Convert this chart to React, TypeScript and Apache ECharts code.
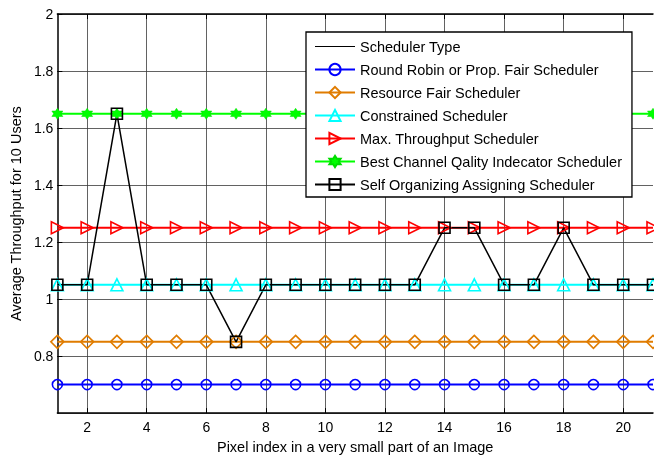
import React, { useEffect, useRef } from "react";
import * as echarts from "echarts";

const categories = ["1","2","3","4","5","6","7","8","9","10","11","12","13","14","15","16","17","18","19","20","21"];
const roundRobin = [0.7,0.7,0.7,0.7,0.7,0.7,0.7,0.7,0.7,0.7,0.7,0.7,0.7,0.7,0.7,0.7,0.7,0.7,0.7,0.7,0.7];
const resourceFair = [0.85,0.85,0.85,0.85,0.85,0.85,0.85,0.85,0.85,0.85,0.85,0.85,0.85,0.85,0.85,0.85,0.85,0.85,0.85,0.85,0.85];
const constrained = [1.05,1.05,1.05,1.05,1.05,1.05,1.05,1.05,1.05,1.05,1.05,1.05,1.05,1.05,1.05,1.05,1.05,1.05,1.05,1.05,1.05];
const maxThroughput = [1.25,1.25,1.25,1.25,1.25,1.25,1.25,1.25,1.25,1.25,1.25,1.25,1.25,1.25,1.25,1.25,1.25,1.25,1.25,1.25,1.25];
const bestChannel = [1.65,1.65,1.65,1.65,1.65,1.65,1.65,1.65,1.65,1.65,1.65,1.65,1.65,1.65,1.65,1.65,1.65,1.65,1.65,1.65,1.65];
const selfOrganizing = [1.05,1.05,1.65,1.05,1.05,1.05,0.85,1.05,1.05,1.05,1.05,1.05,1.05,1.25,1.25,1.05,1.05,1.25,1.05,1.05,1.05];

const FONT = "'Liberation Sans', Arial, sans-serif";
const HEX = "path://M0,-10 L2.9,-5 L8.66,-5 L5.8,0 L8.66,5 L2.9,5 L0,10 L-2.9,5 L-8.66,5 L-5.8,0 L-8.66,-5 L-2.9,-5 Z";

const evenIdx = (i: number) => i % 2 === 1;

export default function App() {
  const ref = useRef<HTMLDivElement>(null);
  useEffect(() => {
    if (!ref.current) return;
    const chart = echarts.init(ref.current, null, { renderer: "svg" });
    const hollow = (name: string, data: number[], color: string, symbol: string, size: number, rotate = 0, lw = 2) => ({
      name,
      type: "line",
      data,
      symbol,
      symbolSize: size,
      symbolRotate: rotate,
      showAllSymbol: true,
      clip: false,
      lineStyle: { color, width: lw },
      itemStyle: { color: "rgba(255,255,255,0)", borderColor: color, borderWidth: 1.6 },
      emphasis: { disabled: true },
    });
    chart.setOption({
      animation: false,
      textStyle: { fontFamily: FONT },
      grid: { left: 54, right: 1, top: 14, bottom: 42 },
      legend: {
        orient: "vertical",
        left: 306,
        top: 32,
        padding: [7, 10, 5, 8],
        itemWidth: 40,
        itemHeight: 14,
        itemGap: 8,
        backgroundColor: "#fff",
        borderColor: "#000",
        borderWidth: 1.3,
        borderRadius: 0,
        textStyle: { fontFamily: FONT, fontSize: 14.5, color: "#000" },
        data: [
          { name: "Scheduler Type", icon: "path://M0,0 H40 V1 H0 Z", itemStyle: { color: "#000" } },
          "Round Robin or Prop. Fair Scheduler",
          "Resource Fair Scheduler",
          "Constrained Scheduler",
          "Max. Throughput Scheduler",
          "Best Channel Qality Indecator Scheduler",
          "Self Organizing Assigning Scheduler",
        ],
      },
      xAxis: [
        {
          type: "category",
          data: categories,
          boundaryGap: false,
          name: "Pixel index in a very small part of an Image",
          nameLocation: "middle",
          nameGap: 19,
          nameTextStyle: { fontFamily: FONT, fontSize: 14.5, color: "#000" },
          axisLine: { lineStyle: { color: "#000", width: 1.5 } },
          axisTick: { inside: true, length: 5, interval: evenIdx, lineStyle: { color: "#000" } },
          axisLabel: { interval: evenIdx, fontFamily: FONT, fontSize: 14, color: "#000", margin: 7 },
          splitLine: { show: true, interval: evenIdx, lineStyle: { color: "#3a3a3a", width: 0.8 } },
        },
        {
          type: "category",
          data: categories,
          boundaryGap: false,
          position: "top",
          axisLine: { lineStyle: { color: "#000", width: 1.5 } },
          axisTick: { inside: true, length: 5, interval: evenIdx, lineStyle: { color: "#000" } },
          axisLabel: { show: false },
          splitLine: { show: false },
        },
      ],
      yAxis: {
        type: "value",
        min: 0.6,
        max: 2,
        interval: 0.2,
        name: "Average Throughput for 10 Users",
        nameLocation: "middle",
        nameGap: 31,
        nameTextStyle: { fontFamily: FONT, fontSize: 14.5, color: "#000" },
        axisLine: { show: true, lineStyle: { color: "#000", width: 1.5 } },
        axisTick: { show: true, inside: true, length: 5, lineStyle: { color: "#000" } },
        axisLabel: {
          showMinLabel: false,
          fontFamily: FONT,
          fontSize: 14,
          color: "#000",
          margin: 4,
          formatter: (v: number) => String(+v.toFixed(1)),
        },
        splitLine: { show: true, lineStyle: { color: "#3a3a3a", width: 0.8 } },
      },
      series: [
        {
          name: "Scheduler Type",
          type: "line",
          data: [],
          symbol: "none",
          lineStyle: { color: "#000", width: 1 },
          itemStyle: { color: "#000" },
        },
        hollow("Round Robin or Prop. Fair Scheduler", roundRobin, "#0000ff", "circle", 10),
        hollow("Resource Fair Scheduler", resourceFair, "#e07c00", "diamond", 13),
        hollow("Constrained Scheduler", constrained, "#00ffff", "triangle", 12),
        hollow("Max. Throughput Scheduler", maxThroughput, "#ff0000", "triangle", 12, -90),
        {
          name: "Best Channel Qality Indecator Scheduler",
          type: "line",
          data: bestChannel,
          symbol: HEX,
          symbolSize: 11,
          showAllSymbol: true,
          clip: false,
          lineStyle: { color: "#00ff00", width: 2 },
          itemStyle: { color: "#00ff00", borderColor: "#00dd00", borderWidth: 0.5 },
          emphasis: { disabled: true },
        },
        hollow("Self Organizing Assigning Scheduler", selfOrganizing, "#000000", "rect", 11, 0, 1.5),
      ],
    });
    return () => chart.dispose();
  }, []);
  return <div ref={ref} style={{ position: "fixed", left: 0, top: 0, width: 654, height: 459 }} />;
}
